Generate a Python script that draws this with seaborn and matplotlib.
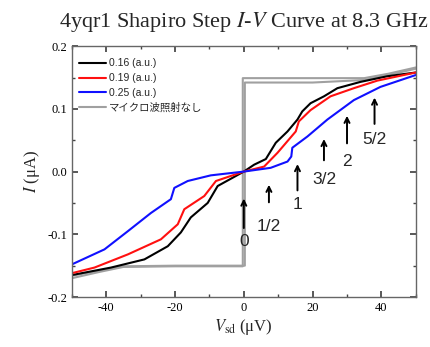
import numpy as np
import pandas as pd
import seaborn as sns
import matplotlib.pyplot as plt
from matplotlib.ticker import MultipleLocator

# 読み取ったデータ (V: μV, I: μA)
v_016 = [-50, -38.6, -28.9, -22.1, -18.3, -15.4, -10.5, -7.6, 0, 3.0, 6.4, 9.3, 12.7, 15.6, 17, 19.4, 23.3, 27.2, 33.9, 41.7, 50]
i_016 = [-0.165, -0.153, -0.140, -0.119, -0.097, -0.073, -0.050, -0.023, 0, 0.011, 0.020, 0.046, 0.064, 0.083, 0.096, 0.109, 0.120, 0.133, 0.143, 0.152, 0.158]

v_019 = [-50, -43.4, -33.7, -24.1, -19.2, -17.3, -11.5, -8.1, 0, 5.9, 9.8, 15.1, 16, 19.4, 25.2, 32, 38.8, 50]
i_019 = [-0.162, -0.153, -0.132, -0.108, -0.084, -0.060, -0.039, -0.015, 0, 0.008, 0.030, 0.064, 0.080, 0.098, 0.120, 0.133, 0.145, 0.158]

v_025 = [-50, -40.5, -33.7, -27, -21.2, -20.2, -16.3, -9.6, 0, 7.8, 12.7, 13.8, 14.1, 18.5, 24.3, 32, 39.7, 50]
i_025 = [-0.148, -0.124, -0.095, -0.066, -0.044, -0.026, -0.015, -0.006, 0, 0.006, 0.016, 0.024, 0.038, 0.056, 0.083, 0.114, 0.135, 0.154]

# マイクロ波照射なし (往復2本)
v_off_a = [-50, -42, -35, -20, -0.3, -0.3, 20, 35, 42, 50]
i_off_a = [-0.170, -0.160, -0.152, -0.151, -0.151, 0.149, 0.149, 0.149, 0.156, 0.166]
v_off_b = [-50, -42, -35, -20, 0.3, 0.3, 20, 35, 42, 50]
i_off_b = [-0.166, -0.158, -0.151, -0.150, -0.150, 0.142, 0.142, 0.146, 0.154, 0.164]

# Shapiro step の矢印
step_labels = ["0", "1/2", "1", "3/2", "2", "5/2"]
step_v = [0, 7.3, 15.6, 23.3, 30, 38]
arrow_base = [-0.090, -0.049, -0.030, 0.018, 0.045, 0.076]
arrow_tip = [-0.043, -0.021, 0.012, 0.052, 0.089, 0.118]
label_i = [-0.112, -0.088, -0.052, -0.013, 0.016, 0.051]

sns.set_theme(style="ticks")
plt.rcParams['font.family'] = ['Liberation Serif', 'Noto Sans CJK JP']
plt.rcParams['mathtext.fontset'] = 'stix'
plt.rcParams['axes.unicode_minus'] = False

fig = plt.figure(figsize=(4.3, 3.47), dpi=100)
ax = fig.add_axes([0.167, 0.144, 0.8, 0.723])

gray = '#a0a0a0'
sns.lineplot(x=v_off_a, y=i_off_a, sort=False, estimator=None, color=gray, lw=1.5, ax=ax, label='マイクロ波照射なし')
sns.lineplot(x=v_off_b, y=i_off_b, sort=False, estimator=None, color=gray, lw=1.5, ax=ax)
sns.lineplot(x=v_016, y=i_016, sort=False, estimator=None, color='black', lw=1.5, ax=ax, label='0.16 (a.u.)')
sns.lineplot(x=v_019, y=i_019, sort=False, estimator=None, color='#ff1010', lw=1.5, ax=ax, label='0.19 (a.u.)')
sns.lineplot(x=v_025, y=i_025, sort=False, estimator=None, color='#1010ff', lw=1.5, ax=ax, label='0.25 (a.u.)')

for lab, v, b, t, li in zip(step_labels, step_v, arrow_base, arrow_tip, label_i):
    ax.annotate("", xy=(v, t), xytext=(v, b),
                arrowprops=dict(arrowstyle="->", color='black', lw=1.4, mutation_scale=9,
                                shrinkA=0, shrinkB=0))
    ax.text(v, li, lab, ha='center', va='center', fontsize=12.5, family='Liberation Sans')

handles, labels = ax.get_legend_handles_labels()
order = [1, 2, 3, 0]
ax.legend([handles[k] for k in order], [labels[k] for k in order], loc='upper left',
          frameon=False, prop={'family': ['Liberation Sans', 'Noto Sans CJK JP'], 'size': 7.5},
          handlelength=2.6, handletextpad=0.3, labelspacing=0.45, borderaxespad=0.3,
          bbox_to_anchor=(0.0, 0.98))

ax.set_xlim(-50, 50)
ax.set_ylim(-0.2, 0.2)
ax.xaxis.set_major_locator(MultipleLocator(20))
ax.xaxis.set_minor_locator(MultipleLocator(10))
ax.yaxis.set_major_locator(MultipleLocator(0.1))
ax.yaxis.set_minor_locator(MultipleLocator(0.05))
ax.yaxis.set_major_formatter(plt.FormatStrFormatter('%.1f'))
ax.tick_params(which='both', direction='in', top=True, right=True, colors='#444444', labelcolor='black', labelsize=9)
ax.tick_params(which='major', length=4)
ax.tick_params(which='minor', length=2.5)
for sp in ax.spines.values():
    sp.set_color('#666666')
    sp.set_linewidth(1.0)

ax.set_xlabel('$V_{\\rm sd}$ (μV)', fontsize=12, labelpad=2)
ax.set_ylabel('$I$ (μA)', fontsize=12, labelpad=4)
ax.set_title('4yqr1 Shapiro Step $I$-$V$ Curve at 8.3 GHz', fontsize=16, pad=14)

fig.savefig('out.png', dpi=100)
